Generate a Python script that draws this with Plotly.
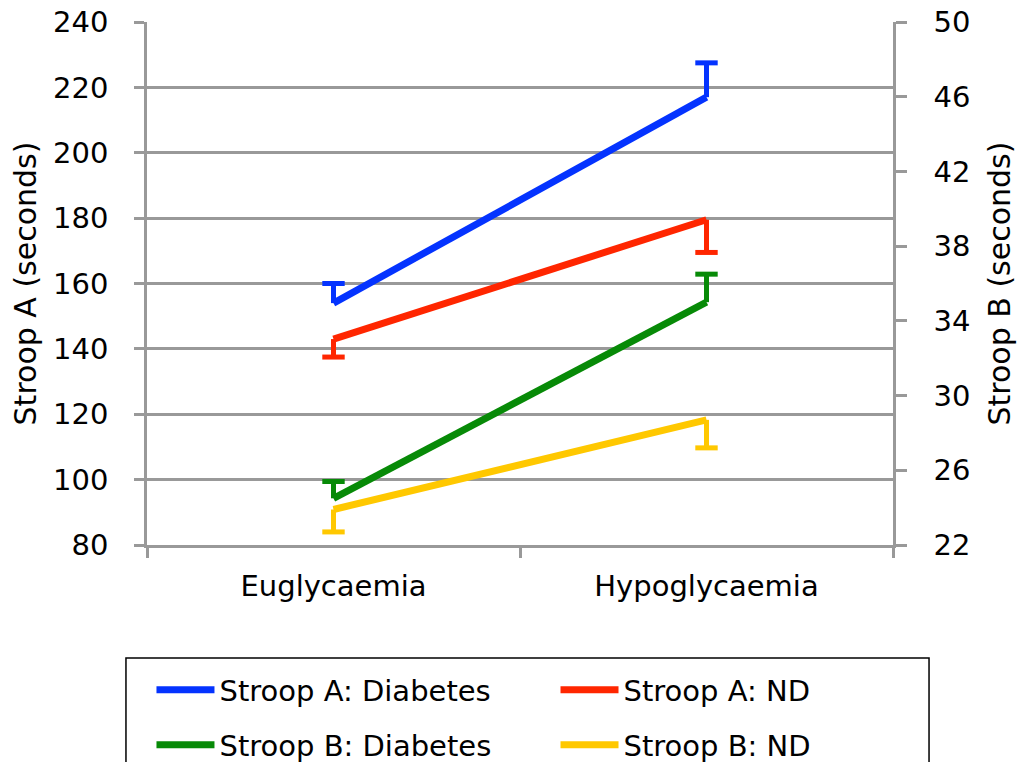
import plotly.graph_objects as go

categories = ["Euglycaemia", "Hypoglycaemia"]

series_names = ["Stroop A: Diabetes", "Stroop A: ND", "Stroop B: Diabetes", "Stroop B: ND"]
stroop_a_diabetes = [154, 217]
stroop_a_nd = [143, 179.5]
stroop_b_diabetes = [24.5, 35]
stroop_b_nd = [23.9, 28.7]

# one-sided error bars: positive = upward, negative = downward
err_a_diabetes = [6, 10.5]
err_a_nd = [-5.5, -10]
err_b_diabetes = [0.9, 1.5]
err_b_nd = [-1.2, -1.5]

left_ticks = [80, 100, 120, 140, 160, 180, 200, 220, 240]
right_ticks = [22, 26, 30, 34, 38, 42, 46, 50]

colors = ["#0433FF", "#FF2600", "#078A07", "#FFC800"]
values = [stroop_a_diabetes, stroop_a_nd, stroop_b_diabetes, stroop_b_nd]
errors = [err_a_diabetes, err_a_nd, err_b_diabetes, err_b_nd]
axes = ["y", "y", "y2", "y2"]
legends = ["legend", "legend2", "legend3", "legend4"]
# legend grid placement (paper coords): two columns, two rows
legend_x = [0.006, 0.5476, 0.006, 0.5476]
legend_y = [-0.2772, -0.2772, -0.3824, -0.3824]

GRID = "#999999"
TICKFONT = dict(family="DejaVu Sans", size=29, color="black")
TITLEFONT = dict(family="DejaVu Sans", size=30, color="black")
LEGFONT = dict(family="DejaVu Sans", size=29, color="black")

fig = go.Figure()

# error bars (stem + cap) drawn first
for name, vals, errs, col, ax in zip(series_names, values, errors, colors, axes):
    xs, ys = [], []
    for c, v, e in zip(categories, vals, errs):
        xs += [c, c, None]
        ys += [v, v + e, None]
    fig.add_trace(go.Scatter(
        x=xs, y=ys, mode="lines", yaxis=ax, showlegend=False, hoverinfo="skip",
        line=dict(color=col, width=5)))
    fig.add_trace(go.Scatter(
        x=categories, y=[v + e for v, e in zip(vals, errs)], mode="markers", yaxis=ax,
        showlegend=False, hoverinfo="skip",
        marker=dict(symbol="line-ew", size=16, line=dict(color=col, width=5))))

for name, vals, col, ax, lg in zip(series_names, values, colors, axes, legends):
    fig.add_trace(go.Scatter(
        x=categories, y=vals, mode="lines", name=name, yaxis=ax, legend=lg,
        line=dict(color=col, width=7)))

legend_layout = {}
for lg, lx, ly in zip(legends, legend_x, legend_y):
    legend_layout[lg] = dict(
        orientation="h", x=lx, xanchor="left", y=ly, yanchor="middle",
        font=LEGFONT, bgcolor="rgba(0,0,0,0)", borderwidth=0, itemwidth=58)

fig.update_layout(
    width=1023, height=762,
    margin=dict(l=147, r=130, t=22, b=217, autoexpand=False),
    paper_bgcolor="white", plot_bgcolor="white",
    showlegend=True,
    xaxis=dict(
        type="category", range=[-0.5, 1.5], showgrid=False, zeroline=False,
        showline=True, linecolor=GRID, linewidth=2.5,
        ticks="outside", tickson="boundaries", ticklen=10, tickwidth=2.5, tickcolor=GRID,
        tickfont=TICKFONT, ticklabelstandoff=13),
    yaxis=dict(
        range=[80, 240], tickvals=left_ticks, showgrid=True, gridcolor=GRID, gridwidth=2.5,
        zeroline=False, showline=True, linecolor=GRID, linewidth=2.5,
        ticks="outside", ticklen=10, tickwidth=2.5, tickcolor=GRID,
        tickfont=TICKFONT, ticklabelstandoff=20,
        title=dict(text="Stroop A (seconds)", font=TITLEFONT, standoff=8)),
    yaxis2=dict(
        range=[22, 50], tickvals=right_ticks, overlaying="y", side="right", anchor="x",
        showgrid=False, zeroline=False, showline=True, linecolor=GRID, linewidth=2.5,
        ticks="outside", ticklen=11, tickwidth=2.5, tickcolor=GRID,
        tickfont=TICKFONT, ticklabelstandoff=21,
        title=dict(text="Stroop B (seconds)", font=TITLEFONT, standoff=20)),
    shapes=[dict(type="rect", xref="paper", yref="paper",
                 x0=-0.0282, x1=1.0483, y0=-0.7, y1=-0.216,
                 line=dict(color="black", width=1.5), fillcolor="rgba(0,0,0,0)")],
    **legend_layout,
)

fig.write_html("out.html")
